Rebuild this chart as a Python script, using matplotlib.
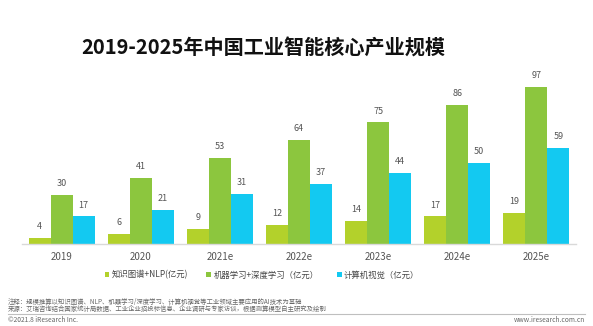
import numpy as np
import matplotlib
matplotlib.use("Agg")
from matplotlib import pyplot as plt

plt.rcParams['font.family'] = ['Noto Sans CJK SC', 'DejaVu Sans']

# data
years = ['2019', '2020', '2021e', '2022e', '2023e', '2024e', '2025e']
kg_nlp = [4, 6, 9, 12, 14, 17, 19]
ml_dl = [30, 41, 53, 64, 75, 86, 97]
cv = [17, 21, 31, 37, 44, 50, 59]
series_names = ['知识图谱+NLP(亿元)', '机器学习+深度学习（亿元）', '计算机视觉（亿元）']
colors = ['#b3d12b', '#8cc63e', '#13c9f1']

W, H = 593, 326
fig = plt.figure(figsize=(W / 100, H / 100), dpi=100)

# axes placed in pixel terms
left, right, top, base = 22, 576, 82, 244
ax = fig.add_axes([left / W, 1 - base / H, (right - left) / W, (base - top) / H])

x = np.arange(len(years))
bw = 0.278
bars = []
for i, (vals, c) in enumerate(zip([kg_nlp, ml_dl, cv], colors)):
    b = ax.bar(x + (i - 1) * bw, vals, width=bw, color=c, label=series_names[i])
    bars.append(b)
    for xi, v in zip(x + (i - 1) * bw, vals):
        ax.annotate(str(v), (xi, v), xytext=(0, 5), textcoords='offset points',
                    ha='center', va='bottom', fontsize=6.5, color='#555555',
                    annotation_clip=False)

ax.set_xlim(-0.5, len(years) - 0.5)
ax.set_ylim(0, 100)
ax.set_xticks(x)
ax.set_xticklabels(years, fontsize=7, color='#555555')
ax.tick_params(axis='x', length=0, pad=6)
ax.set_yticks([])
for s in ['top', 'right', 'left']:
    ax.spines[s].set_visible(False)
ax.spines['bottom'].set_color('#d9d9d9')
ax.spines['bottom'].set_linewidth(1)

# title
fig.text(263 / W, 1 - 48 / H, '2019-2025年中国工业智能核心产业规模',
         ha='center', va='center', fontsize=14.5, fontweight='bold', color='#111111')

# legend
fig.legend(handles=bars, labels=series_names, loc='center',
           bbox_to_anchor=(262 / W, 1 - 275 / H), ncol=3, frameon=False,
           fontsize=6, handlelength=0.55, handleheight=0.55, handletextpad=0.3,
           columnspacing=2.2, labelcolor='#444444')

# notes
fig.text(8 / W, 1 - 302 / H, '注释：规模推算以知识图谱、NLP、机器学习/深度学习、计算机视觉等工业领域主要应用的AI技术为基础',
         ha='left', va='center', fontsize=4.6, color='#666666')
fig.text(8 / W, 1 - 308.5 / H, '来源：艾瑞咨询结合国家统计局数据、工业企业招投标信息、企业调研与专家访谈，根据测算模型自主研究及绘制',
         ha='left', va='center', fontsize=4.6, color='#666666')

# footer line and text
fig.add_artist(plt.Line2D([8 / W, 585 / W], [1 - 314 / H, 1 - 314 / H],
                          color='#bfbfbf', linewidth=0.8))
fig.text(8 / W, 1 - 320 / H, '©2021.8 iResearch Inc.', ha='left', va='center',
         fontsize=4.8, color='#666666')
fig.text(585 / W, 1 - 320 / H, 'www.iresearch.com.cn', ha='right', va='center',
         fontsize=4.8, color='#666666')

fig.savefig('out.png', dpi=100, facecolor='white')
